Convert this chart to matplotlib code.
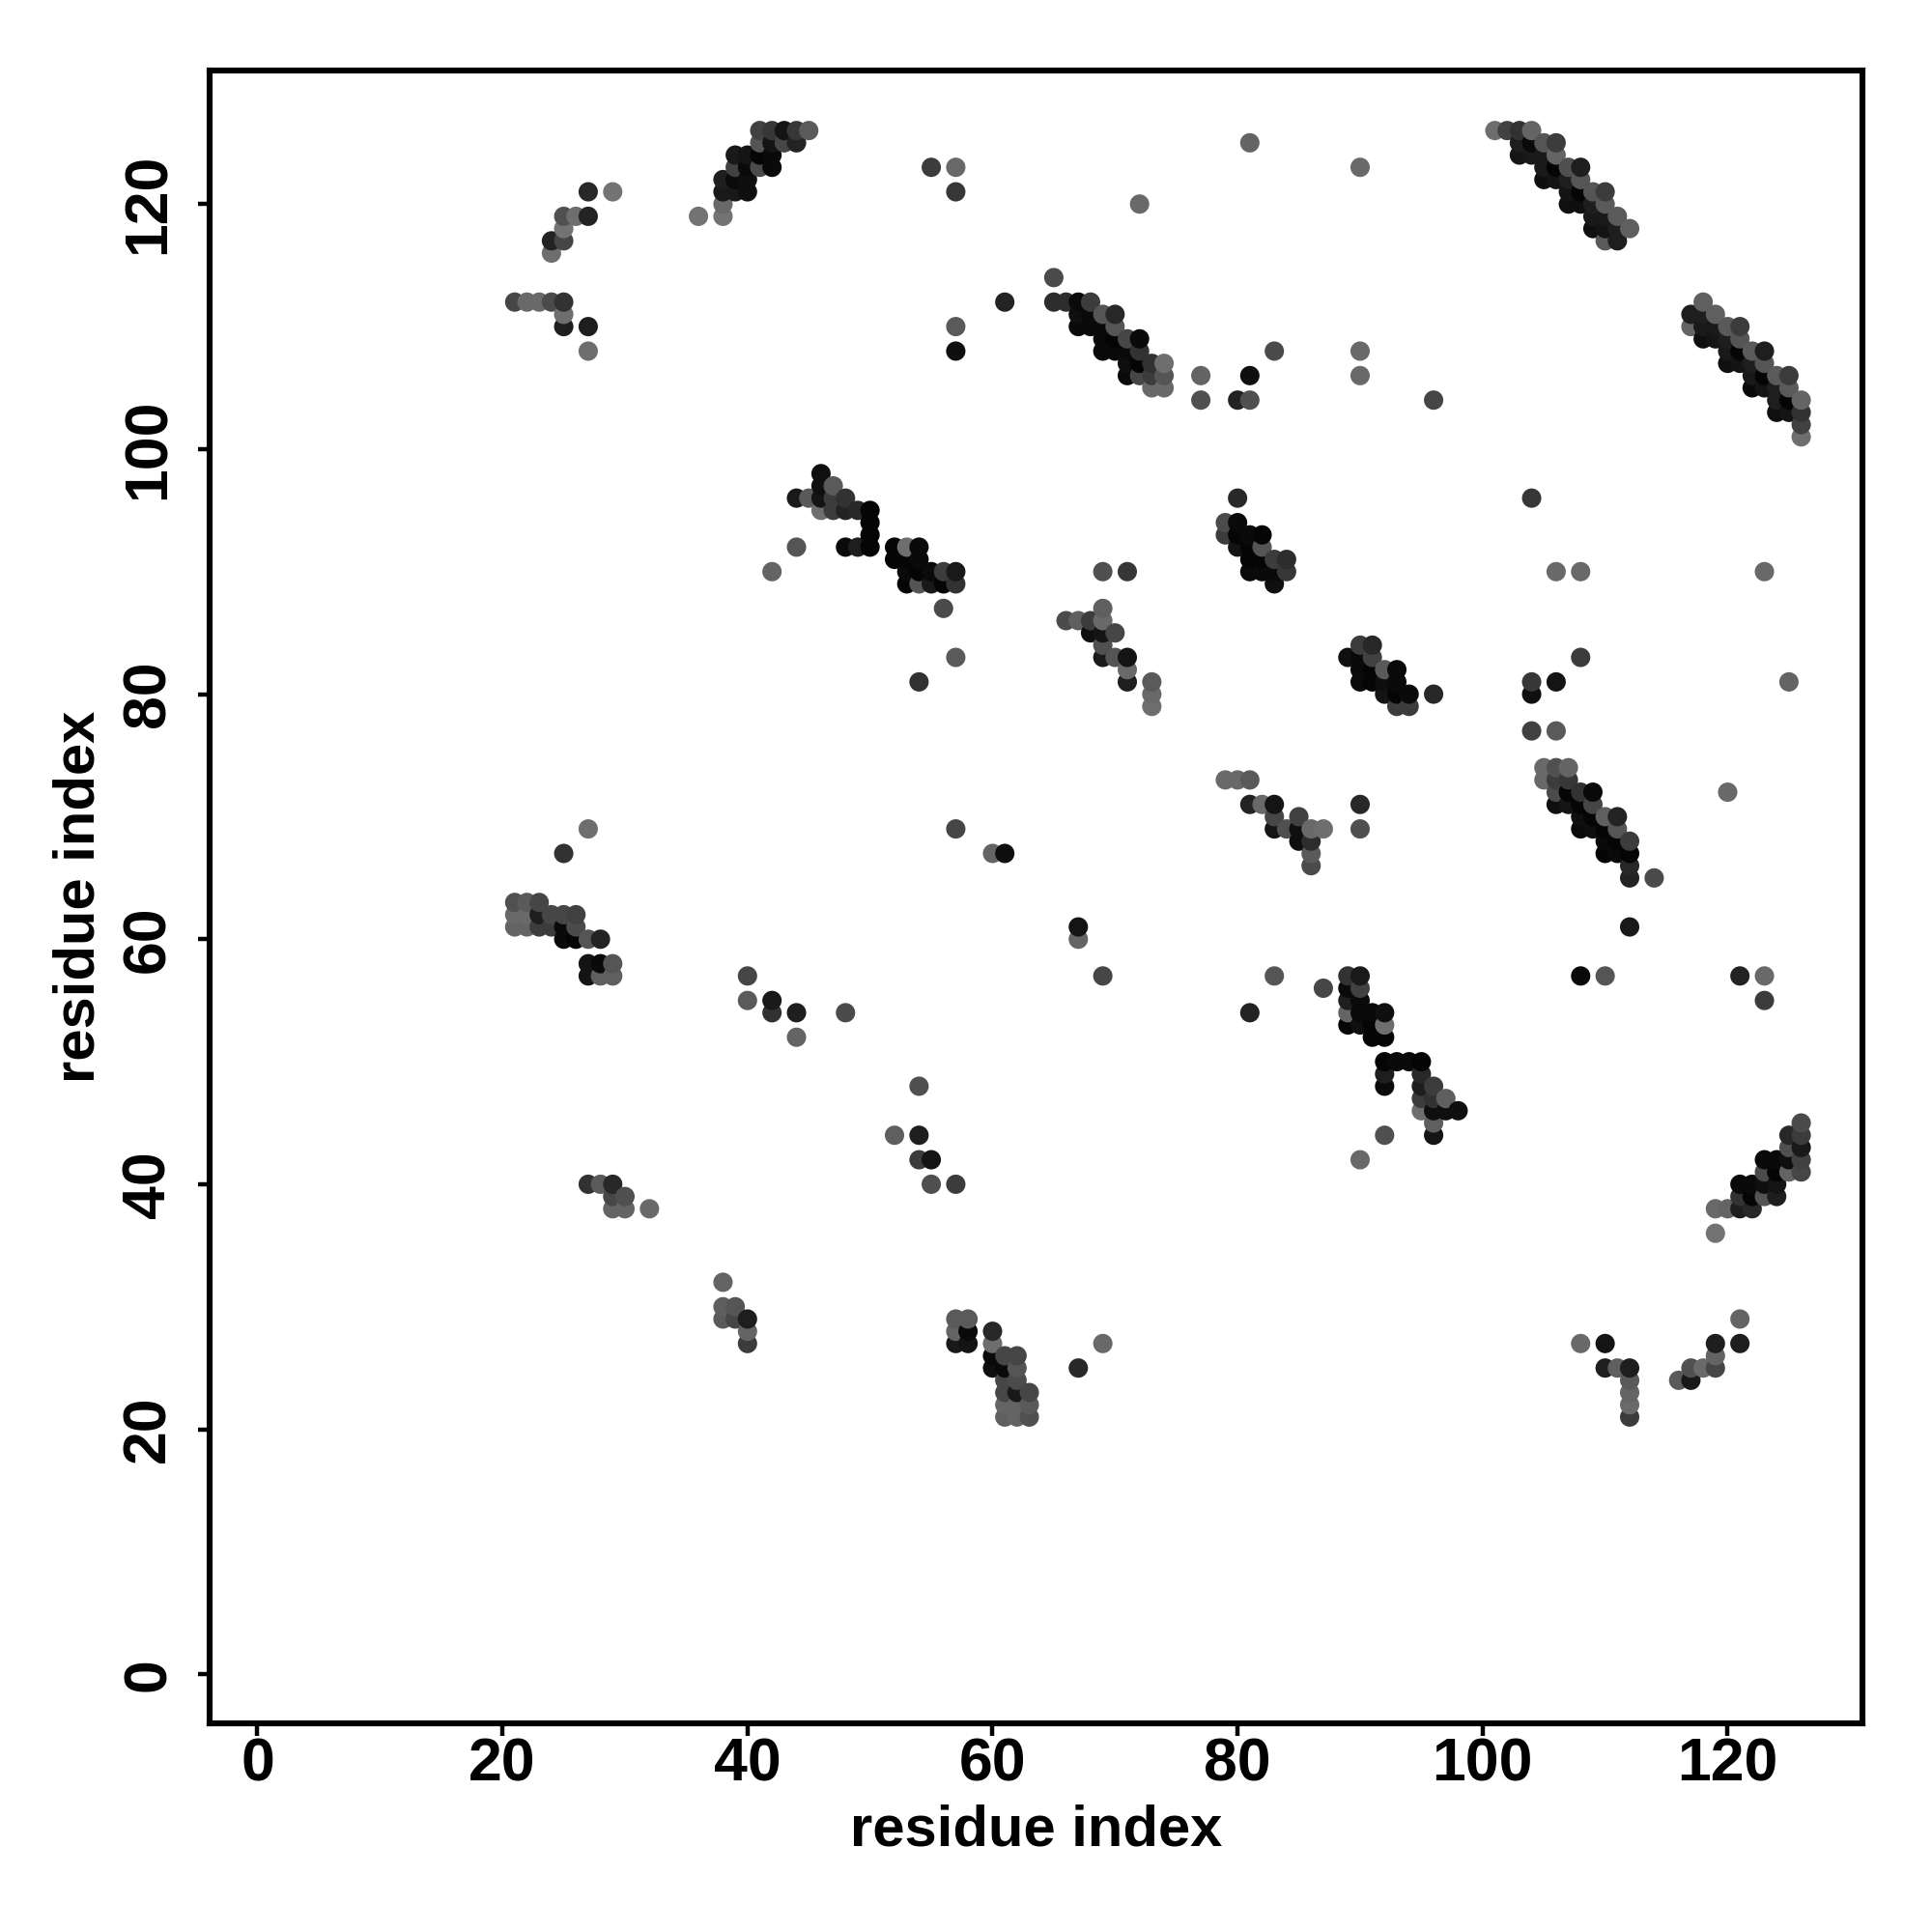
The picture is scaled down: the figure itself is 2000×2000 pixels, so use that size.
import numpy as np
import matplotlib
matplotlib.use('Agg')
import matplotlib.pyplot as plt

plt.rcParams['font.family'] = ['Liberation Sans', 'DejaVu Sans']

tick_values = [0, 20, 40, 60, 80, 100, 120]
x_label = 'residue index'
y_label = 'residue index'

# each group: residue i, residue j, grey level (0-255)
arc_i = [27,29, 25,26,27, 25, 24,25, 24, 21,22,23,24,25, 25, 25,27, 27]
arc_j = [121,121, 119,119,119, 118, 117,117, 116, 112,112,112,112,112, 111, 110,110, 108]
arc_g = [40,115, 80,110,35, 115, 35,70, 110, 70,105,105,75,50, 110, 30,30, 110]

strand_a_i = [36,38,38, 38,39,40, 38,39,40, 39,40,41,42, 39,40,41,42, 41,42,43,44, 41,42,43,44,45]
strand_a_j = [119,119,120, 121,121,121, 122,122,122, 123,123,123,123, 124,124,124,124, 125,125,125,125, 126,126,126,126,126]
strand_a_g = [115,115,105, 25,25,15, 30,10,15, 65,10,75,10, 25,20,5,10, 85,20,70,35, 65,55,20,55,90]

strand_b_i = [65,66,67,68, 67,68,69,70, 67,68,69,70, 69,70,71,72, 69,70,71,72, 71,72,73,74, 71,72,73,74, 73,74]
strand_b_j = [112,112,112,112, 111,111,111,111, 110,110,110,110, 109,109,109,109, 108,108,108,108, 107,107,107,107, 106,106,106,106, 105,105]
strand_b_g = [45,45,10,60, 15,10,85,40, 10,10,10,85, 10,5,70,10, 10,10,10,50, 15,5,50,110, 10,70,60,85, 105,105]

strand_c_i = [101,102,103,104, 103,104,105,106, 103,104,105,106, 105,106,107,108, 105,106,107,108,
              107,108,109,110, 107,108,109,110, 109,110,111, 109,110,111,112, 110,111]
strand_c_j = [126,126,126,126, 125,125,125,125, 124,124,124,124, 123,123,123,123, 122,122,122,122,
              121,121,121,121, 120,120,120,120, 119,119,119, 118,118,118,118, 117,117]
strand_c_g = [110,65,50,100, 30,10,85,60, 20,25,25,100, 25,5,80,30, 15,20,30,85,
              20,5,85,60, 15,15,30,90, 25,25,90, 15,20,30,95, 90,30]

strand_d_i = [118, 117,118,119, 117,118,119,120,121, 118,119,120,121, 120,121,122,123, 120,121,122,123,
              122,123,124,125, 122,123,124,125, 124,125,126, 124,125,126, 126, 126]
strand_d_j = [112, 111,111,111, 110,110,110,110,110, 109,109,109,109, 108,108,108,108, 107,107,107,107,
              106,106,106,106, 105,105,105,105, 104,104,104, 103,103,103, 102, 101]
strand_d_g = [95, 30,30,95, 100,25,25,90,60, 15,20,30,85, 25,5,90,30, 15,20,30,85,
              25,5,90,60, 10,20,30,90, 30,5,100, 15,20,50, 65, 110]

helix_a_i = [46, 46,47, 44,45,46,47,48, 46,47,48,49,50, 50, 50, 48,49,50,52,53,54, 52,53,54,
             53,54,55,56,57, 53,54,55,56,57, 56]
helix_a_j = [98, 97,97, 96,96,96,96,96, 95,95,95,95,95, 94, 93, 92,92,92,92,92,92, 91,91,91,
             90,90,90,90,90, 89,89,89,89,89, 87]
helix_a_g = [15, 15,90, 25,90,20,60,50, 110,60,35,40,5, 5, 5, 10,30,5,5,110,10, 5,5,10,
             10,5,10,60,25, 5,85,25,5,50, 75]

helix_b_i = [80, 79,80, 79,80,81,82, 80,81,82, 81,82,83,84, 81,82,83,84, 83]
helix_b_j = [96, 94,94, 93,93,93,93, 92,92,92, 91,91,91,91, 90,90,90,90, 89]
helix_b_g = [40, 75,10, 60,5,10,5, 20,5,85, 5,5,60,45, 10,10,10,55, 15]

helix_c_i = [90,91, 89,90,91, 90,91,92,93, 90,91,92,93, 92,93,94,96, 93,94]
helix_c_j = [84,84, 83,83,83, 82,82,82,82, 81,81,81,81, 80,80,80,80, 79,79]
helix_c_g = [60,40, 15,10,65, 10,5,90,10, 10,5,15,10, 20,5,10,40, 60,60]

helix_d_i = [105,106,107, 105,106,107, 106,107,108,109, 106,107,108,109, 108,109,110,111, 108,109,110,111,
             110,111,112, 110,111,112, 112, 112,114]
helix_d_j = [74,74,74, 73,73,73, 72,72,72,72, 71,71,71,71, 70,70,70,70, 69,69,69,69,
             68,68,68, 67,67,67, 66, 65,65]
helix_d_g = [105,80,100, 105,60,55, 75,5,50,10, 15,20,5,70, 15,5,95,35, 10,15,5,85,
             10,5,60, 5,10,5, 40, 35,75]

helix_e_i = [89,90, 89,90, 89,90, 89,90,91,92, 89,90,91,92, 91,92, 92,93,94,95, 92,95, 92,95,96,
             95,96,97, 95,96,97,98, 96, 96,92, 90]
helix_e_j = [57,57, 56,56, 55,55, 54,54,54,54, 53,53,53,53, 52,52, 50,50,50,50, 49,49, 48,48,48,
             47,47,47, 46,46,46,46, 45, 44,44, 42]
helix_e_g = [50,25, 10,65, 30,10, 100,10,10,15, 5,15,5,110, 5,5, 5,10,10,5, 30,40, 10,30,60,
             60,50,95, 110,15,15,15, 95, 20,80, 105]

corner_i = [126, 125,126, 125,126, 123,124,125,126, 123,124,125,126, 121,122,123,124, 121,122,123,124,
            119,120,121,122, 119]
corner_j = [45, 44,44, 43,43, 42,42,42,42, 41,41,41,41, 40,40,40,40, 39,39,39,39,
            38,38,38,38, 36]
corner_g = [75, 40,60, 80,25, 10,10,15,65, 75,5,100,70, 10,10,15,20, 50,5,85,30,
            105,100,30,40, 115]

left_i = [21,22,23, 21,22,23,24,25,26, 21,22,23,24,25,26, 25,26,27,28, 27,28,29, 27,28,29]
left_j = [63,63,63, 62,62,62,62,62,62, 61,61,61,61,61,61, 60,60,60,60, 58,58,58, 57,57,57]
left_g = [80,90,70, 105,105,30,70,70,65, 100,100,60,60,10,75, 10,5,85,35, 20,10,85, 20,95,95]

turn_i = [57,58, 57,58,60, 57,58,60, 60,61,62, 60,61,62, 61,62, 61,62,63, 61,62,63, 61,62,63]
turn_j = [29,29, 28,28,28, 27,27,27, 26,26,26, 25,25,25, 24,24, 23,23,23, 22,22,22, 21,21,21]
turn_g = [90,90, 100,10,40, 25,20,110, 10,70,70, 15,10,85, 70,75, 70,25,70, 100,100,90, 95,100,80]

mid_i = [66,67,68,69, 69, 68,69,70, 69, 69,70,71, 71, 71,73, 73, 73, 69,71]
mid_j = [86,86,86,86, 87, 85,85,85, 84, 83,83,83, 82, 81,81, 80, 79, 90,90]
mid_g = [75,95,60,105, 95, 15,20,70, 80, 25,85,20, 105, 30,90, 105, 110, 80,55]

low_mid_i = [79,80,81, 81,82,83, 83,85, 83,84,85,86,87, 85,86, 86, 86, 90,90]
low_mid_j = [73,73,73, 71,71,71, 70,70, 69,69,69,69,69, 68,68, 67, 66, 71,69]
low_mid_g = [105,105,90, 35,105,20, 70,65, 20,80,15,105,110, 15,45, 90, 75, 40,80]

small_i = [27,28,29,29,30,29,30,32, 38,38,39,38,39,40,40,40, 108,110,110,111,112,112,112,112,112,
           116,117,117,118,119,119,119,121,121, 40,40,42,42,44,44,48, 54,52,54,54,55,55,57]
small_j = [40,40,40,39,39,38,38,38, 32,30,30,29,29,29,28,27, 27,27,25,25,25,24,23,22,21,
           24,24,25,25,25,26,27,27,29, 57,55,55,54,54,52,54, 48,44,44,42,42,40,40]
small_g = [50,90,40,70,80,100,100,105, 100,95,85,90,70,30,100,60, 105,20,30,95,30,90,100,105,60,
           90,25,80,105,70,100,30,30,100, 70,90,25,50,30,100,75, 80,95,30,60,20,80,60]

lone_i = [55,57,57,81,90,72,61,57,57,65, 77,77,80,81,81,83,96,90,90, 104,106,108,123,108,125,
          104,106,104,104,106,120,112, 42,44,57,54, 27,25,57,60,61,67,67,69,
          81,83,87,108,110,121,123,123, 67,69]
lone_j = [123,123,121,125,123,120,112,110,108,114, 106,104,104,104,106,108,104,108,106, 96,90,90,90,83,81,
          81,81,80,77,77,72,61, 90,92,83,81, 69,67,69,67,67,61,60,57,
          54,57,56,57,57,57,57,55, 25,27]
lone_g = [60,105,55,100,105,105,35,90,15,75, 100,80,35,80,15,75,70,105,105, 55,105,105,105,60,100,
          55,20,15,65,90,105,25, 100,85,90,50, 110,50,70,100,15,20,100,70,
          35,85,70,10,85,35,105,60, 40,105]

groups = [
    (arc_i, arc_j, arc_g), (strand_a_i, strand_a_j, strand_a_g),
    (strand_b_i, strand_b_j, strand_b_g), (strand_c_i, strand_c_j, strand_c_g),
    (strand_d_i, strand_d_j, strand_d_g), (helix_a_i, helix_a_j, helix_a_g),
    (helix_b_i, helix_b_j, helix_b_g), (helix_c_i, helix_c_j, helix_c_g),
    (helix_d_i, helix_d_j, helix_d_g), (helix_e_i, helix_e_j, helix_e_g),
    (corner_i, corner_j, corner_g), (left_i, left_j, left_g),
    (turn_i, turn_j, turn_g), (mid_i, mid_j, mid_g),
    (low_mid_i, low_mid_j, low_mid_g), (small_i, small_j, small_g),
    (lone_i, lone_j, lone_g),
]
for a, b, c in groups:
    assert len(a) == len(b) == len(c), (a, b, c)

res_i = np.concatenate([g[0] for g in groups])
res_j = np.concatenate([g[1] for g in groups])
grey = np.concatenate([g[2] for g in groups]) / 255

# higher i, then higher j, ends up on top
order = np.lexsort((res_j, res_i))
colors = [(v, v, v) for v in grey[order]]

fig = plt.figure(figsize=(10, 10), dpi=200)
ax = fig.add_axes([217/2000, 1 - 1784/2000, 1711/2000, 1711/2000])
ax.scatter(res_i[order], res_j[order], s=52, c=colors, linewidths=0, zorder=3)

ax.set_xlim(-3.9, 131)
ax.set_ylim(-4, 130.9)
ax.set_xticks(tick_values)
ax.set_yticks(tick_values)
ax.tick_params(axis='both', length=4.5, width=1.6, labelsize=22.5)
ax.tick_params(axis='x', pad=0.5)
ax.tick_params(axis='y', pad=7.5)
for t in ax.get_xticklabels():
    t.set_fontweight('bold')
for t in ax.get_yticklabels():
    t.set_fontweight('bold')
    t.set_rotation(90)
    t.set_va('center')
for s in ax.spines.values():
    s.set_linewidth(2.2)

ax.set_xlabel(x_label, fontsize=21.5, fontweight='bold')
ax.set_ylabel(y_label, fontsize=21.5, fontweight='bold')
ax.xaxis.set_label_coords(0.5, -0.0488)
ax.yaxis.set_label_coords(-0.0626, 0.5)

fig.savefig('out.png', dpi=200, facecolor='white')
